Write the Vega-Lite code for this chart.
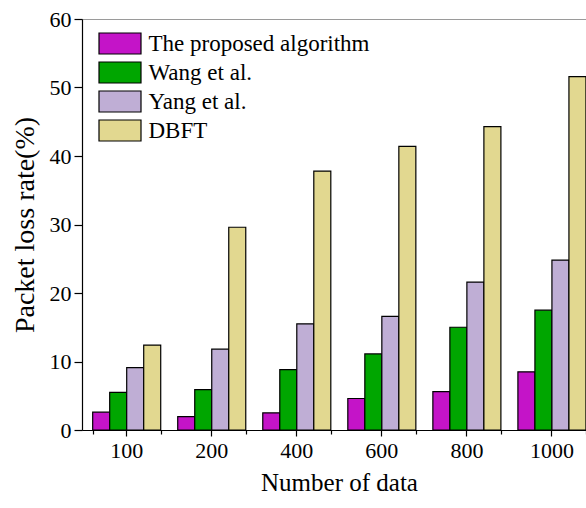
{
  "$schema": "https://vega.github.io/schema/vega-lite/v6.json",
  "width": 505,
  "height": 411,
  "autosize": {"type": "none"},
  "padding": {"left": 82, "top": 19, "right": 0, "bottom": 78},
  "background": "white",
  "config": {
    "font": "Liberation Serif",
    "view": {"stroke": "#9a9a9a", "strokeWidth": 1},
    "axis": {"grid": false, "domainColor": "black", "tickColor": "black", "labelColor": "black", "titleColor": "black", "labelFont": "Liberation Serif", "titleFont": "Liberation Serif", "titleFontWeight": "normal"}
  },
  "data": {
    "values": [
      {"n": "100", "method": "The proposed algorithm", "rate": 2.6},
      {"n": "100", "method": "Wang et al.", "rate": 5.5},
      {"n": "100", "method": "Yang et al.", "rate": 9.1},
      {"n": "100", "method": "DBFT", "rate": 12.4},
      {"n": "200", "method": "The proposed algorithm", "rate": 1.95},
      {"n": "200", "method": "Wang et al.", "rate": 5.9},
      {"n": "200", "method": "Yang et al.", "rate": 11.8},
      {"n": "200", "method": "DBFT", "rate": 29.6},
      {"n": "400", "method": "The proposed algorithm", "rate": 2.5},
      {"n": "400", "method": "Wang et al.", "rate": 8.8},
      {"n": "400", "method": "Yang et al.", "rate": 15.5},
      {"n": "400", "method": "DBFT", "rate": 37.8},
      {"n": "600", "method": "The proposed algorithm", "rate": 4.6},
      {"n": "600", "method": "Wang et al.", "rate": 11.1},
      {"n": "600", "method": "Yang et al.", "rate": 16.6},
      {"n": "600", "method": "DBFT", "rate": 41.4},
      {"n": "800", "method": "The proposed algorithm", "rate": 5.6},
      {"n": "800", "method": "Wang et al.", "rate": 15.0},
      {"n": "800", "method": "Yang et al.", "rate": 21.6},
      {"n": "800", "method": "DBFT", "rate": 44.3},
      {"n": "1000", "method": "The proposed algorithm", "rate": 8.5},
      {"n": "1000", "method": "Wang et al.", "rate": 17.5},
      {"n": "1000", "method": "Yang et al.", "rate": 24.8},
      {"n": "1000", "method": "DBFT", "rate": 51.6}
    ]
  },
  "layer": [
    {
      "mark": {"type": "bar", "opacity": 0},
      "encoding": {
        "x": {
          "field": "n", "type": "nominal", "sort": ["100", "200", "400", "600", "800", "1000"],
          "axis": {"orient": "bottom", "title": null, "labels": false, "domain": false, "tickBand": "extent", "tickSize": 4, "tickWidth": 1.2}
        },
        "y": {"field": "rate", "type": "quantitative"}
      }
    },
    {
      "mark": {"type": "bar", "stroke": "black", "strokeWidth": 1.2},
      "encoding": {
        "x": {
          "field": "n", "type": "nominal", "sort": ["100", "200", "400", "600", "800", "1000"],
          "scale": {"paddingInner": 0.2, "paddingOuter": 0.069, "align": 0.91},
          "axis": {"orient": "bottom", "title": "Number of data", "labelAngle": 0, "labelFontSize": 22, "titleFontSize": 25, "titleX": 257, "tickSize": 6, "labelPadding": 4, "titlePadding": 9, "domainWidth": 1.2, "tickWidth": 1.2}
        },
        "xOffset": {
          "field": "method", "type": "nominal",
          "sort": ["The proposed algorithm", "Wang et al.", "Yang et al.", "DBFT"],
          "scale": {"paddingInner": 0, "paddingOuter": 0}
        },
        "y": {
          "field": "rate", "type": "quantitative",
          "scale": {"domain": [0, 60], "nice": false},
          "axis": {
            "title": "Packet loss rate(%)",
            "values": [0, 5, 10, 15, 20, 25, 30, 35, 40, 45, 50, 55, 60],
            "labelExpr": "datum.value % 10 === 0 ? datum.label : ''",
            "tickSize": {"condition": {"test": "datum.value % 10 === 0", "value": 8}, "value": 4},
            "labelFontSize": 22, "titleFontSize": 28, "labelPadding": 3, "titlePadding": 10,
            "domainWidth": 1.2, "tickWidth": 1.2
          }
        },
        "color": {
          "field": "method", "type": "nominal",
          "sort": ["The proposed algorithm", "Wang et al.", "Yang et al.", "DBFT"],
          "scale": {"range": ["#c414c8", "#00a600", "#bfaed5", "#e2d890"]},
          "legend": {
            "title": null, "orient": "none", "legendX": 26.5, "legendY": 13,
            "symbolType": "M-2,-1H2V1H-2Z", "symbolSize": 441,
            "symbolStrokeColor": "black", "symbolStrokeWidth": 1.2,
            "labelFont": "Liberation Serif", "labelFontSize": 23, "labelColor": "black",
            "labelOffset": 17, "labelLimit": 400, "rowPadding": 2
          }
        }
      }
    }
  ],
  "resolve": {"axis": {"x": "independent"}}
}
